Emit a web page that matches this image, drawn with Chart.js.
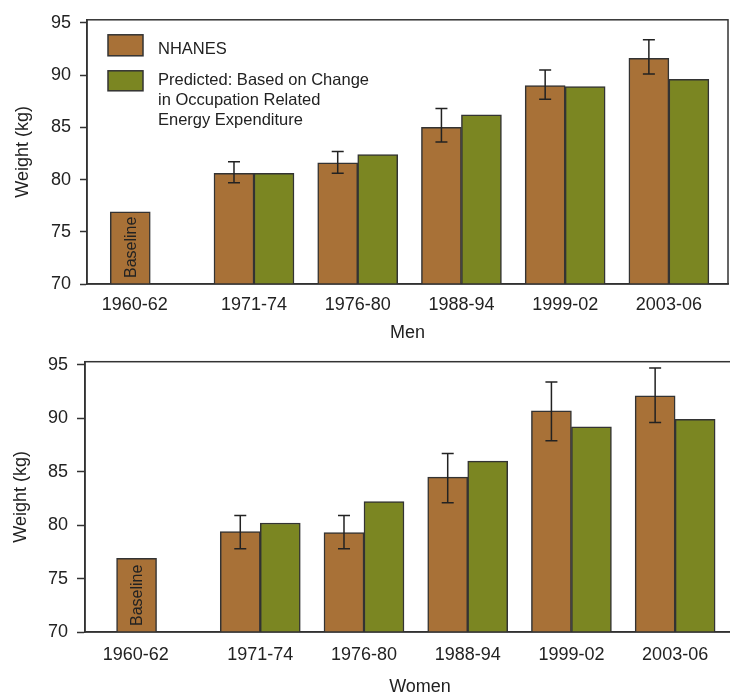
<!DOCTYPE html>
<html>
<head>
<meta charset="utf-8">
<script src="https://cdn.jsdelivr.net/npm/chart.js@4.4.0/dist/chart.umd.min.js"></script>
<style>
  html, body { margin: 0; padding: 0; background: #fff; overflow: hidden; }
  #wrap { position: relative; width: 730px; height: 694px; overflow: hidden; }
  #men { position: absolute; left: 0; top: 0; }
  #women { position: absolute; left: 0; top: 340px; }
</style>
</head>
<body>
<div id="wrap">
  <canvas id="men" width="730" height="350"></canvas>
  <canvas id="women" width="760" height="364"></canvas>
</div>
<script>
// survey periods and y ticks
const periods = ["1960-62", "1971-74", "1976-80", "1988-94", "1999-02", "2003-06"];
const yTicks = [70, 75, 80, 85, 90, 95];

// men
const menNhanes = [76.9, 80.6, 81.6, 85.0, 89.0, 91.6];
const menNhanesLo = [null, 79.7, 80.6, 83.6, 87.7, 90.1];
const menNhanesHi = [null, 81.7, 82.7, 86.8, 90.5, 93.4];
const menPredicted = [null, 80.6, 82.4, 86.2, 88.9, 89.6];

// women
const womenNhanes = [76.9, 79.4, 79.3, 84.5, 90.7, 92.1];
const womenNhanesLo = [null, 77.8, 77.8, 82.1, 87.9, 89.6];
const womenNhanesHi = [null, 80.9, 80.9, 86.7, 93.4, 94.7];
const womenPredicted = [null, 80.2, 82.2, 86.0, 89.2, 89.9];

const nhanesLabel = "NHANES";
const predictedLabel = ["Predicted: Based on Change", "in Occupation Related", "Energy Expenditure"];
const baselineLabel = "Baseline";

const font = "'Liberation Sans', Arial, Helvetica, sans-serif";
const ink = "#222";
const line = "#333";
const brown = "#A87137";
const olive = "#7B8622";

const toPoints = (arr) => arr.map((v, i) => ({ x: i, y: v }));

// box around the plot
const frame = {
  id: "frame",
  afterDraw(chart) {
    const { ctx, chartArea: a } = chart;
    ctx.save();
    ctx.strokeStyle = line;
    ctx.lineWidth = 1.5;
    ctx.strokeRect(a.left, a.top, a.right - a.left, a.bottom - a.top);
    ctx.restore();
  },
};

// error bars on the NHANES bars
const errorBars = {
  id: "errorBars",
  afterDatasetsDraw(chart) {
    const ctx = chart.ctx;
    const y = chart.scales.y;
    chart.data.datasets.forEach((ds, di) => {
      if (!ds.errLo) return;
      chart.getDatasetMeta(di).data.forEach((bar, i) => {
        if (ds.errLo[i] == null) return;
        const top = y.getPixelForValue(ds.errHi[i]);
        const bot = y.getPixelForValue(ds.errLo[i]);
        ctx.save();
        ctx.strokeStyle = ink;
        ctx.lineWidth = 1.5;
        ctx.beginPath();
        ctx.moveTo(bar.x, top);
        ctx.lineTo(bar.x, bot);
        ctx.moveTo(bar.x - 6, top);
        ctx.lineTo(bar.x + 6, top);
        ctx.moveTo(bar.x - 6, bot);
        ctx.lineTo(bar.x + 6, bot);
        ctx.stroke();
        ctx.restore();
      });
    });
  },
};

// "Baseline" written up the first bar
const baselineText = {
  id: "baselineText",
  afterDatasetsDraw(chart) {
    const bar = chart.getDatasetMeta(0).data[0];
    if (!bar) return;
    const ctx = chart.ctx;
    const base = chart.scales.y.getPixelForValue(70);
    ctx.save();
    ctx.translate(bar.x, base - 6);
    ctx.rotate(-Math.PI / 2);
    ctx.fillStyle = ink;
    ctx.font = "16px " + font;
    ctx.textAlign = "left";
    ctx.textBaseline = "middle";
    ctx.fillText(baselineLabel, 0, 1);
    ctx.restore();
  },
};

// legend inside the men plot
const boxLegend = {
  id: "boxLegend",
  afterDraw(chart) {
    const { ctx, chartArea: a } = chart;
    const left = a.left + 21;
    const items = [
      { ds: chart.data.datasets[0], boxTop: 15, boxH: 21, baseline: 34.5 },
      { ds: chart.data.datasets[1], boxTop: 51, boxH: 20, baseline: 65.5 },
    ];
    ctx.save();
    ctx.font = "16.5px " + font;
    ctx.textBaseline = "alphabetic";
    items.forEach((it) => {
      ctx.fillStyle = it.ds.backgroundColor;
      ctx.fillRect(left, a.top + it.boxTop, 35, it.boxH);
      ctx.strokeStyle = line;
      ctx.lineWidth = 1.5;
      ctx.strokeRect(left, a.top + it.boxTop, 35, it.boxH);
      const lines = Array.isArray(it.ds.label) ? it.ds.label : [it.ds.label];
      ctx.fillStyle = ink;
      lines.forEach((t, k) => ctx.fillText(t, left + 50, a.top + it.baseline + k * 20));
    });
    ctx.restore();
  },
};

function makeChart(id, nhanes, lo, hi, predicted, axisTitle, lay, extra) {
  return new Chart(document.getElementById(id), {
    type: "bar",
    data: {
      datasets: [
        {
          label: nhanesLabel,
          data: toPoints(nhanes),
          errLo: lo,
          errHi: hi,
          backgroundColor: brown,
          borderColor: line,
          borderWidth: 1.5,
          barThickness: 40,
        },
        {
          label: predictedLabel,
          data: toPoints(predicted),
          backgroundColor: olive,
          borderColor: line,
          borderWidth: 1.5,
          barThickness: 40,
        },
      ],
    },
    options: {
      responsive: false,
      animation: false,
      layout: { padding: lay.padding },
      plugins: {
        legend: { display: false },
        tooltip: { enabled: false },
      },
      scales: {
        x: {
          type: "linear",
          min: lay.xMin,
          max: lay.xMax,
          offset: false,
          // the baseline label sits a little left of its bar group
          afterBuildTicks: (s) => {
            s.ticks = periods.map((p, i) => ({ value: i === 0 ? lay.firstTick : i }));
          },
          afterFit: (s) => {
            s.height = lay.xHeight;
          },
          grid: { display: false, drawTicks: false, offset: false },
          border: { display: true, color: line, width: 1.5 },
          ticks: {
            padding: lay.xPad,
            color: ink,
            maxRotation: 0,
            autoSkip: false,
            font: { family: font, size: 18 },
            callback: (v) => periods[Math.max(0, Math.round(v))],
          },
          title: {
            display: true,
            text: axisTitle,
            color: ink,
            font: { family: font, size: 18 },
            padding: { top: 0, bottom: lay.xTitlePad },
          },
        },
        y: {
          min: 70,
          max: 95.3,
          afterBuildTicks: (s) => {
            s.ticks = yTicks.map((v) => ({ value: v }));
          },
          afterFit: (s) => {
            s.width = lay.yWidth;
          },
          grid: {
            drawOnChartArea: false,
            drawTicks: true,
            tickLength: lay.tickLen,
            tickColor: line,
            tickWidth: 1.5,
          },
          border: { display: true, color: line, width: 1.5 },
          ticks: {
            padding: lay.yPad,
            color: ink,
            font: { family: font, size: 18 },
          },
          title: {
            display: true,
            text: "Weight (kg)",
            color: ink,
            font: { family: font, size: 18 },
            padding: { top: lay.yTitlePad, bottom: 0 },
          },
        },
      },
    },
    plugins: [frame, errorBars, baselineText].concat(extra),
  });
}

makeChart("men", menNhanes, menNhanesLo, menNhanesHi, menPredicted, "Men", {
  padding: { top: 13, right: 2, left: 0, bottom: 0 },
  xMin: -0.61,
  xMax: 5.57,
  firstTick: -0.15,
  xHeight: 66,
  xPad: 10,
  xTitlePad: 6,
  yWidth: 87,
  tickLen: 7,
  yPad: 9,
  yTitlePad: 12,
}, [boxLegend]);

makeChart("women", womenNhanes, womenNhanesLo, womenNhanesHi, womenPredicted, "Women", {
  padding: { top: 21.7, right: 5, left: 0, bottom: 0 },
  xMin: -0.69,
  xMax: 5.77,
  firstTick: -0.2,
  xHeight: 72,
  xPad: 12,
  xTitlePad: 6.5,
  yWidth: 85,
  tickLen: 8,
  yPad: 9,
  yTitlePad: 10,
}, []);
</script>
</body>
</html>
